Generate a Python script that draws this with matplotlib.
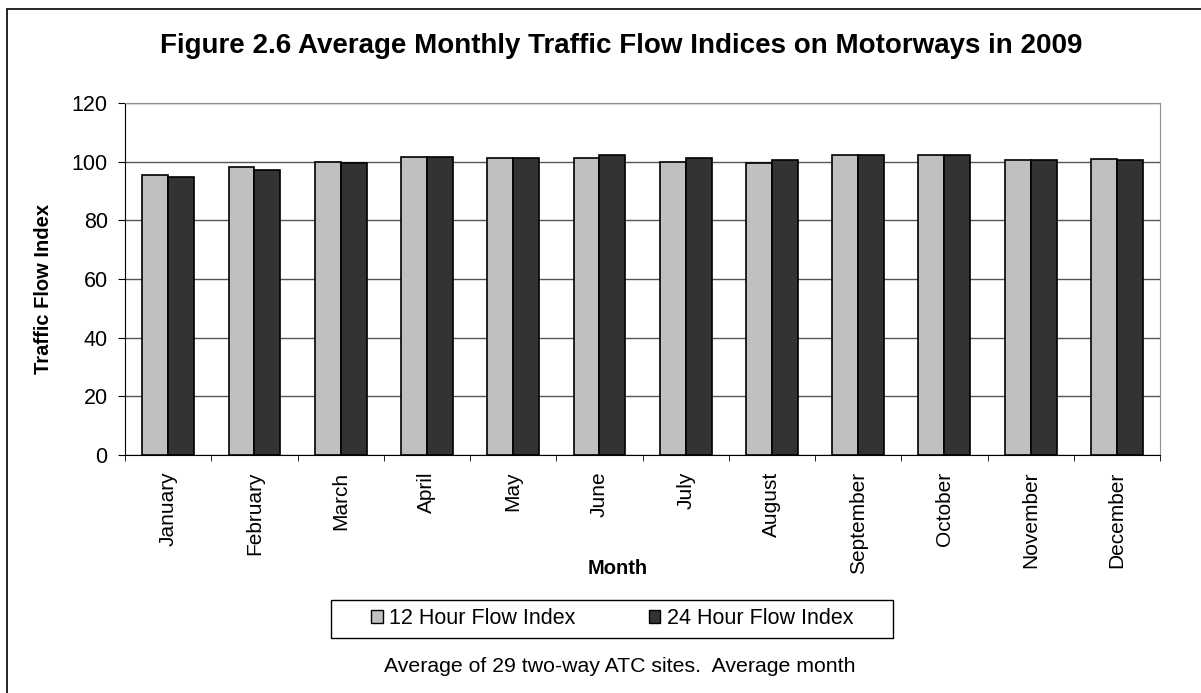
import matplotlib
matplotlib.use("Agg")
import matplotlib.pyplot as plt
import numpy as np
from matplotlib.patches import Rectangle

months = ["January", "February", "March", "April", "May", "June", "July",
          "August", "September", "October", "November", "December"]
flow12 = [95.4, 98.3, 100.0, 101.7, 101.1, 101.1, 100.0, 99.4, 102.3, 102.3, 100.6, 101.0]
flow24 = [94.8, 97.3, 99.4, 101.7, 101.1, 102.3, 101.1, 100.6, 102.3, 102.3, 100.6, 100.6]
series_names = ["12 Hour Flow Index", "24 Hour Flow Index"]
yticks = [0, 20, 40, 60, 80, 100, 120]

plt.rcParams['font.family'] = ['Liberation Sans', 'DejaVu Sans']

W, H = 1201, 693
fig = plt.figure(figsize=(W / 100, H / 100), dpi=100)
ax = fig.add_axes([125 / W, 1 - 455 / H, (1160 - 125) / W, (455 - 103) / H])

x = np.arange(len(months))
bw = 0.3
ax.bar(x - bw / 2, flow12, bw, color="#c0c0c0", edgecolor="black", linewidth=1.2,
       label=series_names[0], zorder=3)
ax.bar(x + bw / 2, flow24, bw, color="#333333", edgecolor="black", linewidth=1.2,
       label=series_names[1], zorder=3)

ax.set_xlim(-0.5, len(months) - 0.5)
ax.set_ylim(0, 120)
ax.set_yticks(yticks)
ax.yaxis.grid(True, color="#555555", linewidth=1, zorder=0)
ax.set_xticks(x)
ax.set_xticklabels(months, rotation=90, fontsize=15)
ax.tick_params(axis="x", length=0, pad=12)
ax.set_xticks(np.arange(-0.5, len(months), 1), minor=True)
ax.tick_params(axis="x", which="minor", length=4.5, direction="out", color="black")
ax.tick_params(axis="y", length=5, direction="out", labelsize=15.5, pad=7.5)
for s in ["top", "right"]:
    ax.spines[s].set_color("#909090")
for s in ["left", "bottom"]:
    ax.spines[s].set_color("black")

ax.set_xlabel("Month", fontsize=14.5, fontweight="bold", va="center")
ax.xaxis.set_label_coords((617.5 - 125) / 1035, (455 - 568) / 352)
ax.set_ylabel("Traffic Flow Index", fontsize=14.5, fontweight="bold", va="center")
ax.yaxis.set_label_coords((44 - 125) / 1035, (455 - 289) / 352)

fig.text(621.5 / W, 1 - 46 / H, "Figure 2.6 Average Monthly Traffic Flow Indices on Motorways in 2009",
         ha="center", va="center", fontsize=20, fontweight="bold")

leg = fig.legend(loc="center", bbox_to_anchor=(612 / W, 1 - 619 / H), ncol=2, fontsize=15.5,
                 frameon=False, handlelength=0.55, handleheight=0.55, columnspacing=3.4,
                 borderpad=0, handletextpad=0.3, borderaxespad=0)
for h in leg.legend_handles:
    h.set_linewidth(1)
fig.patches.append(Rectangle((331 / W, 1 - 638 / H), (893 - 331) / W, 38 / H,
                             transform=fig.transFigure, fill=False, edgecolor="black",
                             linewidth=1))

fig.text(620 / W, 1 - 666 / H, "Average of 29 two-way ATC sites.  Average month",
         ha="center", va="center", fontsize=15.3)

fig.patches.append(Rectangle((7 / W, -0.2), 1.2, 1.2 - 9 / H, transform=fig.transFigure,
                             fill=False, edgecolor="black", linewidth=1.2))

fig.savefig("out.png", dpi=100)
